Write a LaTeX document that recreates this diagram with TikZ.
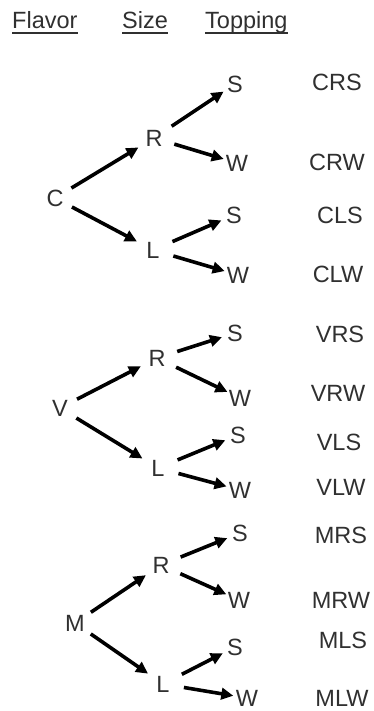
\documentclass[tikz,border=0pt]{standalone}
\usepackage{fontspec}
\setmainfont{Liberation Sans}
\usetikzlibrary{arrows.meta}
\definecolor{txt}{HTML}{303030}
\tikzset{
  lbl/.style={text=txt, font=\fontsize{23.5}{27}\selectfont, inner sep=0pt},
  hdr/.style={lbl, anchor=base west},
  inner/.style={lbl, circle, minimum size=34pt},
  leaf/.style={lbl, circle, minimum size=27pt},
  res/.style={lbl},
  arr/.style={line width=3.6pt, -{Triangle[length=12pt,width=11.5pt]}, shorten >=1pt, shorten <=2pt},
  arrb/.style={line width=3.6pt, -{Triangle[length=12pt,width=11.5pt]}, shorten <=4pt},
  uline/.style={txt, line width=1.4pt}
}
\begin{document}
\begin{tikzpicture}[x=1pt,y=-1pt]
\useasboundingbox (0,0) rectangle (374,711);
% headers
\node[hdr] (hf) at (12,29) {Flavor};
\node[hdr] (hs) at (122,29) {Size};
\node[hdr] (ht) at (205,29) {Topping};
\foreach \h in {hf,hs,ht}{
  \draw[uline] ([yshift=-4pt]\h.base west) -- ([yshift=-4pt]\h.base east);
}
% group C
\node[inner] (C) at (55,198) {C};
\node[inner] (CR) at (154,138) {R};
\node[inner] (CL) at (153,250) {L};
\node[leaf] (CRS) at (235,84) {S};
\node[leaf] (CRW) at (237,163) {W};
\node[leaf] (CLS) at (234,215) {S};
\node[leaf] (CLW) at (238,275) {W};
\node[res] (tCRS) at (337,82) {CRS};
\node[res] (tCRW) at (337,162) {CRW};
\node[res] (tCLS) at (340,215) {CLS};
\node[res] (tCLW) at (338,274) {CLW};
\draw[arr] (C) -- (CR);
\draw[arr] (C) -- (CL);
\draw[arrb] (CR) -- (CRS);
\draw[arrb] (CR) -- (CRW);
\draw[arrb] (CL) -- (CLS);
\draw[arrb] (CL) -- (CLW);
% group V
\node[inner] (V) at (60,408) {V};
\node[inner] (VR) at (157,358) {R};
\node[inner] (VL) at (158,468) {L};
\node[leaf] (VRS) at (235,333) {S};
\node[leaf] (VRW) at (240,398) {W};
\node[leaf] (VLS) at (238,435) {S};
\node[leaf] (VLW) at (240,490) {W};
\node[res] (tVRS) at (340,334) {VRS};
\node[res] (tVRW) at (338,393) {VRW};
\node[res] (tVLS) at (339,442) {VLS};
\node[res] (tVLW) at (341,487) {VLW};
\draw[arr] (V) -- (VR);
\draw[arr] (V) -- (VL);
\draw[arrb] (VR) -- (VRS);
\draw[arrb] (VR) -- (VRW);
\draw[arrb] (VL) -- (VLS);
\draw[arrb] (VL) -- (VLW);
% group M
\node[inner] (M) at (75,623) {M};
\node[inner] (MR) at (161,565) {R};
\node[inner] (ML) at (163,684) {L};
\node[leaf] (MRS) at (240,533) {S};
\node[leaf] (MRW) at (239,600) {W};
\node[leaf] (MLS) at (235,647) {S};
\node[leaf] (MLW) at (247,698) {W};
\node[res] (tMRS) at (341,535) {MRS};
\node[res] (tMRW) at (341,600) {MRW};
\node[res] (tMLS) at (343,640) {MLS};
\node[res] (tMLW) at (342,698) {MLW};
\draw[arr] (M) -- (MR);
\draw[arr] (M) -- (ML);
\draw[arrb] (MR) -- (MRS);
\draw[arrb] (MR) -- (MRW);
\draw[arrb] (ML) -- (MLS);
\draw[arrb] (ML) -- (MLW);
\end{tikzpicture}
\end{document}
